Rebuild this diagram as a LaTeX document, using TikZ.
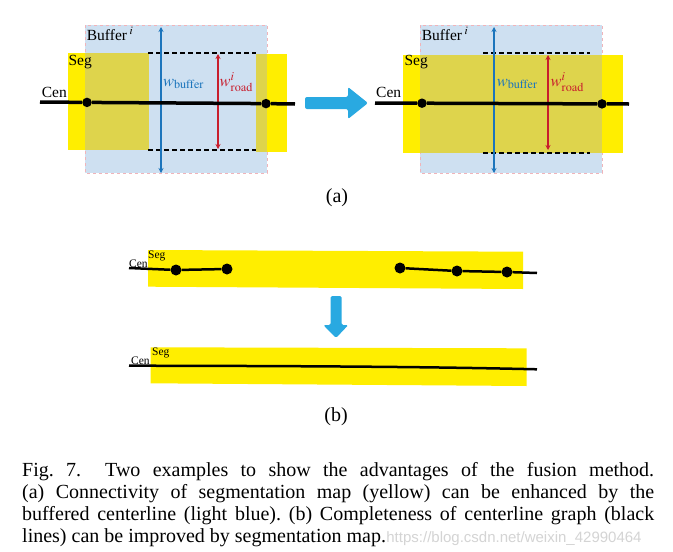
\documentclass[tikz,border=0pt]{standalone}
\usepackage{mathptmx}
\usepackage{fontspec}
\setmainfont{Liberation Serif}
\newfontfamily\wmfont{Liberation Sans}
\usetikzlibrary{arrows.meta}
\frenchspacing

\definecolor{bufblue}{RGB}{206,224,241}
\definecolor{segyellow}{RGB}{255,238,0}
\definecolor{segolive}{RGB}{222,212,76}
\definecolor{bordpink}{RGB}{240,180,186}
\definecolor{arrblue}{RGB}{41,169,225}
\definecolor{wblue}{RGB}{28,117,188}
\definecolor{wred}{RGB}{200,30,45}

\tikzset{
  cendot/.style={circle, fill=black, inner sep=0pt, minimum size=9.5pt},
  smalldot/.style={circle, fill=black, inner sep=0pt, minimum size=11pt},
  widthdash/.style={black, dashed, dash pattern=on 5pt off 3pt, line width=1.5pt},
  widtharrow/.style={line width=1.4pt, {Stealth[length=5pt,width=5pt]}-{Stealth[length=5pt,width=5pt]}},
  lbl/.style={anchor=base west, font=\fontsize{15.5}{16}\selectfont},
  smalllbl/.style={anchor=base west, font=\fontsize{11.5}{12}\selectfont},
  wlbl/.style={anchor=base west, font=\fontsize{16.5}{17}\selectfont},
  capline/.style={anchor=base west, font=\fontsize{20}{22}\selectfont}
}

\begin{document}
\begin{tikzpicture}[x=1pt, y=-1pt, every node/.style={inner sep=0pt}]
	\useasboundingbox[fill=white] (0,0) rectangle (673,552);

	% Draw the left example: buffer and segmentation
	\fill[bufblue] (85,25) rectangle (267,173);
	\draw[bordpink, dashed, line width=0.6pt] (85,25) rectangle (267,173);
	\fill[segyellow] (68,53) rectangle (85,150);
	\fill[segolive] (85,53) rectangle (149,150);
	\fill[segolive] (256,54) rectangle (267,152);
	\fill[segyellow] (267,54) rectangle (287,152);

	% Draw the road width lines
	\draw[widthdash] (148,53) -- (256,53);
	\draw[widthdash] (148,150) -- (256,150);
	\coordinate (bufTopL) at (161,27);
	\coordinate (bufBotL) at (161,173);
	\coordinate (roadTopL) at (218,54);
	\coordinate (roadBotL) at (218,149);
	\draw[widtharrow, wblue] (bufTopL) -- (bufBotL);
	\draw[widtharrow, wred] (roadTopL) -- (roadBotL);

	% Draw the centerline
	\coordinate (cenStartL) at (40,102);
	\coordinate (cenEndL) at (295,104);
	\node[cendot] (dotLa) at (87,102.4) {};
	\node[cendot] (dotLb) at (266,103.6) {};
	\draw[line width=3.5pt] (cenStartL) -- (dotLa) -- (dotLb) -- (cenEndL);

	\node[lbl] (bufLblL) at (86.7,40) {Buffer\,$^{i}$};
	\node[lbl] (segLblL) at (68.3,65) {Seg};
	\node[lbl] (cenLblL) at (41.7,97) {Cen};
	\node[wlbl, text=wblue] (wbufL) at (163,86) {$w_{\mathrm{buffer}}$};
	\node[wlbl, text=wred] (wroadL) at (219.5,86) {$w^{i}_{\mathrm{road}}$};

	% Draw the big arrow
	\fill[arrblue, rounded corners=2pt] (305,97) -- (348,97) -- (348,87) -- (368,103)
		-- (348,119) -- (348,109) -- (305,109) -- cycle;

	% Draw the right example: buffer and segmentation
	\fill[bufblue] (420,25) rectangle (602,173);
	\draw[bordpink, dashed, line width=0.6pt] (420,25) rectangle (602,173);
	\fill[segyellow] (403,55) rectangle (623,153);
	\fill[segolive] (420,55) rectangle (602,153);

	% Draw the road width lines
	\draw[widthdash] (483,53) -- (590,53);
	\draw[widthdash] (483,153) -- (590,153);
	\coordinate (bufTopR) at (494,27);
	\coordinate (bufBotR) at (494,173);
	\coordinate (roadTopR) at (548,55);
	\coordinate (roadBotR) at (548,150);
	\draw[widtharrow, wblue] (bufTopR) -- (bufBotR);
	\draw[widtharrow, wred] (roadTopR) -- (roadBotR);

	% Draw the centerline
	\coordinate (cenStartR) at (375,103);
	\coordinate (cenEndR) at (629,104);
	\node[cendot] (dotRa) at (422,103.2) {};
	\node[cendot] (dotRb) at (602,103.9) {};
	\draw[line width=3.5pt] (cenStartR) -- (dotRa) -- (dotRb) -- (cenEndR);

	\node[lbl] (bufLblR) at (421.7,40) {Buffer\,$^{i}$};
	\node[lbl] (segLblR) at (404.3,65) {Seg};
	\node[lbl] (cenLblR) at (376,97) {Cen};
	\node[wlbl, text=wblue] (wbufR) at (496.7,86) {$w_{\mathrm{buffer}}$};
	\node[wlbl, text=wred] (wroadR) at (550.5,86) {$w^{i}_{\mathrm{road}}$};

	\node[font=\fontsize{20}{22}\selectfont] (subA) at (337,198) {(a)};

	% Draw the top band of (b)
	\fill[segyellow] (148,250) -- (523,251.7) -- (523,289) -- (148,286.7) -- cycle;
	\coordinate (cenStartT) at (129,268);
	\coordinate (cenEndT) at (537,273);
	\node[smalldot] (dotTa) at (176,270) {};
	\node[smalldot] (dotTb) at (227,269) {};
	\node[smalldot] (dotTc) at (400,268) {};
	\node[smalldot] (dotTd) at (457,271) {};
	\node[smalldot] (dotTe) at (507,272) {};
	\draw[line width=2.5pt] (cenStartT) -- (dotTa) -- (dotTb);
	\draw[line width=2.5pt] (dotTc) -- (dotTd) -- (dotTe) -- (cenEndT);
	\node[smalllbl] (cenLblT) at (129,267.5) {Cen};
	\node[smalllbl] (segLblT) at (148,258) {Seg};

	% Draw the down arrow
	\fill[arrblue, rounded corners=1.5pt] (330.7,296) -- (341.7,296) -- (341.7,325) -- (348.3,325)
		-- (336,338) -- (323.3,325) -- (330.7,325) -- cycle;

	% Draw the bottom band of (b)
	\fill[segyellow] (150.7,347.3) -- (526.7,348.3) -- (526.7,386) -- (150.7,383.3) -- cycle;
	\coordinate (cenStartB) at (129,365.7);
	\coordinate (cenEndB) at (537,369.3);
	\draw[line width=2.5pt] (cenStartB) .. controls (330,366) and (440,367) .. (cenEndB);
	\node[smalllbl] (cenLblB) at (131,364) {Cen};
	\node[smalllbl] (segLblB) at (152,355) {Seg};

	\node[font=\fontsize{20}{22}\selectfont] (subB) at (336,417) {(b)};

	% Caption lines
	\node[capline] (capA) at (22,476) {\makebox[632pt][s]{Fig. 7.\hspace{1.2em}Two examples to show the advantages of the fusion method.}};
	\node[capline] (capB) at (22,498) {\makebox[632pt][s]{(a) Connectivity of segmentation map (yellow) can be enhanced by the}};
	\node[capline] (capC) at (22,520) {\makebox[632pt][s]{buffered centerline (light blue). (b) Completeness of centerline graph (black}};
	\node[capline] (capD) at (22,542) {lines) can be improved by segmentation map.};
	\node[anchor=base west, font=\wmfont\fontsize{15}{15}\selectfont, text=black!17] (wmark) at (capD.base east) {https://blog.csdn.net/weixin\_42990464};
\end{tikzpicture}
\end{document}
